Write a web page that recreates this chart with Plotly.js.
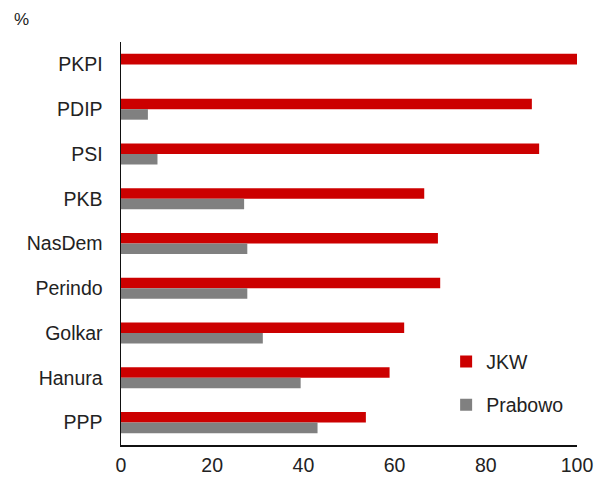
<!DOCTYPE html>
<html>
<head>
<meta charset="utf-8">
<script src="https://cdn.plot.ly/plotly-3.0.1.min.js"></script>
<style>
  html, body { margin: 0; padding: 0; background: #fff; }
  #chart { width: 606px; height: 477px; }
</style>
</head>
<body>
<div id="chart"></div>
<script>
// Party names, top to bottom
const parties = ["PKPI", "PDIP", "PSI", "PKB", "NasDem", "Perindo", "Golkar", "Hanura", "PPP"];
// Share of each party's voters backing each candidate, %
const jkwShare = [100, 90.1, 91.7, 66.5, 69.5, 70.0, 62.1, 58.9, 53.7];
const prabowoShare = [0, 5.9, 8.0, 27.0, 27.7, 27.7, 31.1, 39.4, 43.1];
const xTicks = [0, 20, 40, 60, 80, 100];

const font = { family: "Liberation Sans, Arial, sans-serif", size: 19.5, color: "#222" };

const traces = [
  {
    type: "bar", orientation: "h", name: "JKW",
    y: parties, x: jkwShare,
    marker: { color: "#CC0000" },
    legendgroup: "a", hoverinfo: "x+y"
  },
  {
    type: "bar", orientation: "h", name: "Prabowo",
    y: parties, x: prabowoShare,
    marker: { color: "#808080" },
    legendgroup: "b", hoverinfo: "x+y"
  }
];

const layout = {
  width: 606, height: 477,
  margin: { l: 121, r: 29, t: 42, b: 32 },
  paper_bgcolor: "#fff", plot_bgcolor: "#fff",
  font: font,
  barmode: "group",
  bargap: 0.53,
  bargroupgap: 0,
  showlegend: true,
  legend: {
    x: 0.713, y: 0.255, xanchor: "left", yanchor: "top",
    bgcolor: "rgba(0,0,0,0)",
    font: font,
    traceorder: "grouped",
    tracegroupgap: 15,
    itemwidth: 30
  },
  xaxis: {
    range: [0, 100],
    tickvals: xTicks,
    ticktext: xTicks.map(String),
    showgrid: false, zeroline: false,
    showline: true, linecolor: "#111", linewidth: 1.5,
    ticks: "", ticklabelstandoff: 2, tickfont: font
  },
  yaxis: {
    type: "category",
    autorange: "reversed",
    showgrid: false, zeroline: false,
    showline: true, linecolor: "#111", linewidth: 1.5,
    ticks: "", ticklabelstandoff: 13, tickfont: font
  },
  annotations: [
    {
      text: "%", xref: "paper", yref: "paper",
      x: -121 / 456 + 12 / 456, y: 1 + 23 / 403,
      xanchor: "left", yanchor: "middle",
      showarrow: false, font: { family: font.family, size: 17, color: "#222" }
    }
  ]
};

Plotly.newPlot("chart", traces, layout, { displayModeBar: false, staticPlot: true });
</script>
</body>
</html>
